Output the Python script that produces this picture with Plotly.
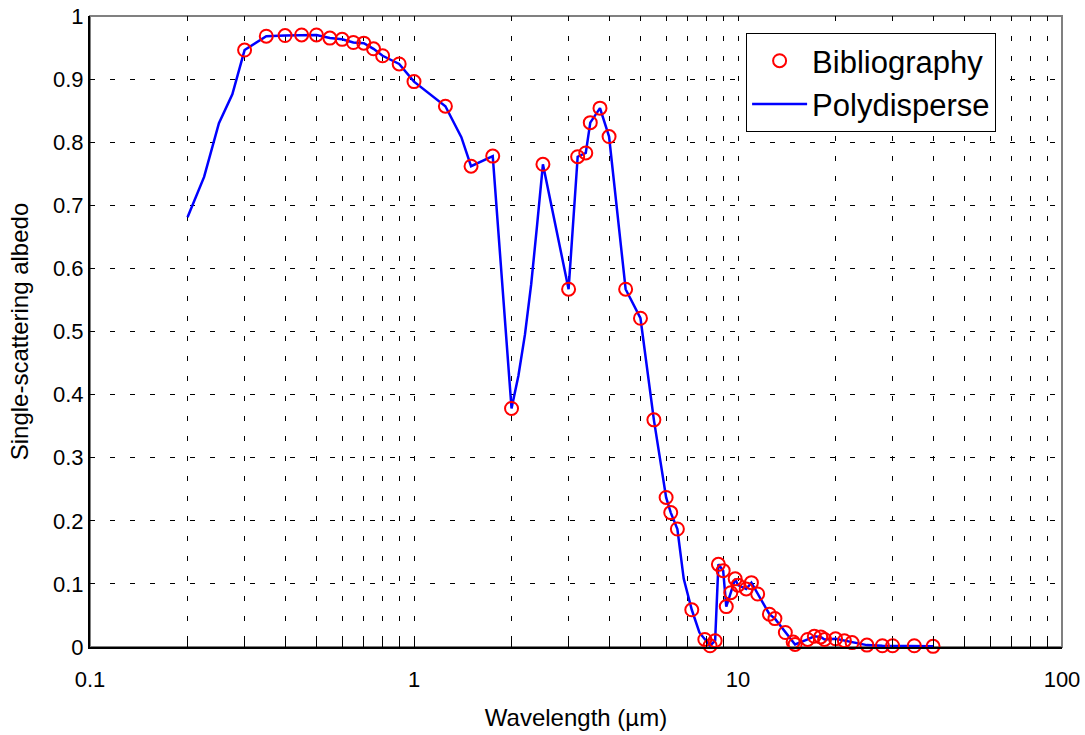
import plotly.graph_objects as go

# Bibliography values (open circles)
bib_wavelength = [0.3, 0.35, 0.4, 0.45, 0.5, 0.55, 0.6, 0.65, 0.7, 0.75, 0.8, 0.9,
                  1.0, 1.25, 1.5, 1.75, 2.0, 2.5, 3.0, 3.2, 3.39, 3.5, 3.75, 4.0,
                  4.5, 5.0, 5.5, 6.0, 6.2, 6.5, 7.2, 7.9, 8.2, 8.5, 8.7, 9.0, 9.2,
                  9.5, 9.8, 10.0, 10.6, 11.0, 11.5, 12.5, 13.0, 14.0, 14.8, 15.0,
                  16.4, 17.2, 18.0, 18.5, 20.0, 21.3, 22.5, 25.0, 27.9, 30.0, 35.0, 40.0]
bib_albedo = [0.946, 0.968, 0.969, 0.970, 0.970, 0.965, 0.963, 0.958, 0.957, 0.948, 0.937, 0.924,
              0.896, 0.857, 0.762, 0.778, 0.378, 0.765, 0.567, 0.777, 0.783, 0.831, 0.854, 0.809,
              0.567, 0.521, 0.360, 0.237, 0.213, 0.187, 0.059, 0.012, 0.002, 0.010, 0.131, 0.121, 0.064,
              0.086, 0.108, 0.098, 0.092, 0.102, 0.084, 0.052, 0.045, 0.023, 0.008, 0.004,
              0.012, 0.017, 0.016, 0.012, 0.013, 0.010, 0.007, 0.003, 0.002, 0.002, 0.002, 0.001]

# Polydisperse calculation (solid line)
poly_wavelength = [0.2, 0.225, 0.25, 0.275, 0.3, 0.35, 0.4, 0.45, 0.5, 0.55, 0.6, 0.65, 0.7,
                   0.75, 0.8, 0.9, 1.0, 1.25, 1.4, 1.5, 1.75, 2.0, 2.1, 2.2, 2.3, 2.4, 2.5,
                   3.0, 3.2, 3.39, 3.5, 3.75, 4.0, 4.5, 5.0, 5.5, 6.0, 6.2, 6.5, 6.8, 7.2,
                   7.6, 7.9, 8.2, 8.5, 8.7, 9.0, 9.2, 9.5, 9.8, 10.0, 10.6, 11.0, 11.5, 12.5,
                   13.0, 14.0, 14.8, 15.0, 16.4, 17.2, 18.0, 18.5, 20.0, 21.3, 22.5, 25.0,
                   27.9, 30.0, 35.0, 40.0]
poly_albedo = [0.681, 0.745, 0.830, 0.876, 0.946, 0.968, 0.969, 0.970, 0.970, 0.965, 0.963, 0.958, 0.957,
               0.948, 0.937, 0.924, 0.896, 0.857, 0.808, 0.762, 0.778, 0.378, 0.430, 0.495, 0.575, 0.670, 0.765,
               0.567, 0.777, 0.783, 0.831, 0.854, 0.809, 0.567, 0.521, 0.360, 0.237, 0.213, 0.187, 0.108, 0.059,
               0.023, 0.012, 0.002, 0.010, 0.131, 0.121, 0.064, 0.086, 0.108, 0.098, 0.092, 0.102, 0.084, 0.052,
               0.045, 0.023, 0.008, 0.004, 0.012, 0.017, 0.016, 0.012, 0.013, 0.010, 0.007, 0.003,
               0.002, 0.002, 0.002, 0.001]

# Log-axis ticks: every 1..9 step in each decade, labels only at decades
x_tickvals = [m * 10.0 ** e for e in (-1, 0, 1) for m in range(1, 10)] + [100]
x_ticktext = ["0.1" if v == 0.1 else "1" if v == 1 else "10" if v == 10 else "100" if v == 100 else ""
              for v in x_tickvals]

FONT = "Liberation Sans, Arial, sans-serif"
GRID = dict(gridcolor="#000000", gridwidth=1, griddash="5px,15px")

fig = go.Figure()

fig.add_trace(go.Scatter(
    x=poly_wavelength, y=poly_albedo, mode="lines", name="Polydisperse",
    line=dict(color="#0000FF", width=2.5),
    legendgroup="poly", legendrank=2, cliponaxis=False,
))
fig.add_trace(go.Scatter(
    x=bib_wavelength, y=bib_albedo, mode="markers", name="Bibliography",
    marker=dict(symbol="circle-open", size=13, color="#FF0000", line=dict(width=2, color="#FF0000")),
    legendgroup="bib", legendrank=1, cliponaxis=False,
))

fig.update_layout(
    width=1085, height=735,
    margin=dict(l=90, r=23, t=16, b=88, autoexpand=False),
    paper_bgcolor="white", plot_bgcolor="white",
    font=dict(family=FONT, size=22, color="black"),
    showlegend=True,
    legend=dict(
        x=0.675, y=0.973, xanchor="left", yanchor="top",
        bgcolor="white", bordercolor="black", borderwidth=1,
        font=dict(family=FONT, size=31, color="black"),
        tracegroupgap=0, itemwidth=55,
    ),
    xaxis=dict(
        type="log", range=[-1, 2], automargin=False,
        tickvals=x_tickvals, ticktext=x_ticktext,
        ticks="inside", ticklen=8, tickwidth=1, tickcolor="black",
        ticklabelstandoff=12,
        showline=True, linecolor="black", linewidth=2,
        showgrid=True, zeroline=False,
        title=dict(text="Wavelength (µm)", font=dict(family=FONT, size=24), standoff=18),
        tickfont=dict(family=FONT, size=22),
        **GRID,
    ),
    yaxis=dict(
        range=[0, 1], dtick=0.1, tick0=0, automargin=False,
        ticks="", showline=True, linecolor="black", linewidth=2,
        showgrid=True, zeroline=False,
        title=dict(text="Single-scattering albedo", font=dict(family=FONT, size=24), standoff=18),
        tickfont=dict(family=FONT, size=22),
        **GRID,
    ),
    shapes=[dict(type="rect", xref="paper", yref="paper", x0=0, x1=1, y0=0, y1=1,
                 line=dict(color="#808080", width=2), layer="between")],
)

fig.write_html("out.html")
